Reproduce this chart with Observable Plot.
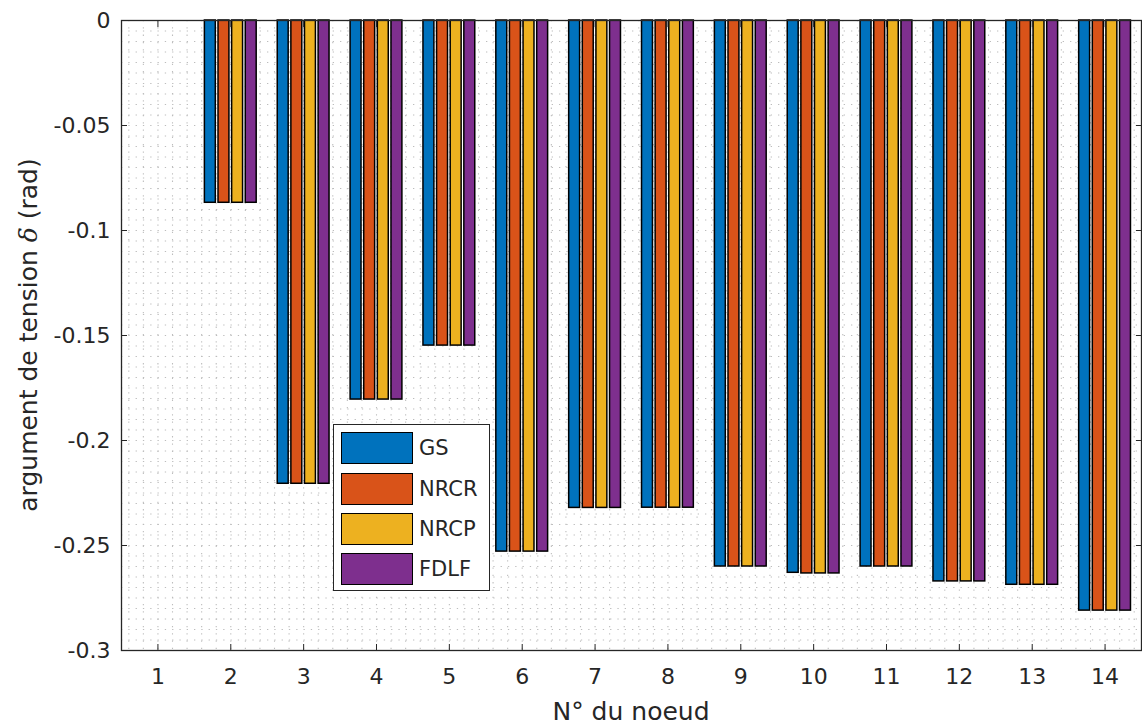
<!DOCTYPE html>
<html>
<head>
<meta charset="utf-8">
<script src="https://cdn.jsdelivr.net/npm/d3@7"></script>
<script src="https://cdn.jsdelivr.net/npm/@observablehq/plot@0.6"></script>
<style>
  body { margin: 0; background: #fff; }
  #wrap { position: relative; width: 1142px; height: 727px; overflow: hidden; font-family: "DejaVu Sans", sans-serif; color: #262626; }
  #ylabel { position: absolute; left: 28px; top: 335px; transform: translate(-50%, -50%) rotate(-90deg); white-space: nowrap; font-size: 25px; }
  #xlabel { position: absolute; left: 631px; top: 711px; transform: translate(-50%, -50%); white-space: nowrap; font-size: 25px; }
  #legend { position: absolute; left: 333px; top: 424px; width: 157px; height: 167px; border: 1.3px solid #262626; background: #fff; box-sizing: border-box; }
  .item { position: absolute; left: 7px; height: 34px; display: flex; align-items: center; }
  .sw { width: 72px; height: 32px; border: 1.3px solid #000; box-sizing: border-box; margin-right: 6px; }
  .lt { font-size: 21px; }
</style>
</head>
<body>
<div id="wrap">
  <div id="chart"></div>
  <div id="ylabel">argument de tension <span style="font-family:'DejaVu Serif';font-style:italic">δ</span> (rad)</div>
  <div id="xlabel">N° du noeud</div>
  <div id="legend"></div>
</div>
<script>
// ---- data ----
const nodes = [1, 2, 3, 4, 5, 6, 7, 8, 9, 10, 11, 12, 13, 14];
const series = ["GS", "NRCR", "NRCP", "FDLF"];
const colors = ["#0072BD", "#D95319", "#EDB120", "#7E2F8E"];
const gs   = [0, -0.0868, -0.2206, -0.1805, -0.1548, -0.2529, -0.2321, -0.2320, -0.2600, -0.2630, -0.2600, -0.2671, -0.2687, -0.2810];
const nrcr = [0, -0.0868, -0.2206, -0.1805, -0.1548, -0.2529, -0.2321, -0.2320, -0.2600, -0.2633, -0.2600, -0.2671, -0.2687, -0.2810];
const nrcp = [0, -0.0868, -0.2206, -0.1805, -0.1548, -0.2529, -0.2321, -0.2320, -0.2600, -0.2633, -0.2600, -0.2671, -0.2687, -0.2810];
const fdlf = [0, -0.0868, -0.2206, -0.1805, -0.1548, -0.2529, -0.2321, -0.2320, -0.2600, -0.2633, -0.2600, -0.2671, -0.2687, -0.2810];
const yTicks = [-0.3, -0.25, -0.2, -0.15, -0.1, -0.05, 0];
const yTickLabels = ["-0.3", "-0.25", "-0.2", "-0.15", "-0.1", "-0.05", "0"];

// ---- build table ----
const values = [gs, nrcr, nrcp, fdlf];
const step = 0.187;
const barW = 0.15;
const bars = [];
series.forEach((s, i) => {
  nodes.forEach((n, j) => {
    const c = n + (i - (series.length - 1) / 2) * step;
    bars.push({node: n, series: s, value: values[i][j], x1: c - barW / 2, x2: c + barW / 2});
  });
});
const gridY = d3.range(0, 61).map(k => -k * 0.005);
const gridX = d3.range(0, 70).map(k => 0.6 + k * 0.2);

const fmt = d => yTickLabels[yTicks.findIndex(t => Math.abs(t - d) < 1e-9)];
const none = () => "";

const chart = Plot.plot({
  width: 1142,
  height: 727,
  marginLeft: 121,
  marginRight: 1,
  marginTop: 20,
  marginBottom: 77,
  x: {domain: [0.5, 14.5], label: null},
  y: {domain: [-0.3, 0], label: null},
  color: {domain: series, range: colors},
  style: {fontFamily: "DejaVu Sans", fontSize: "22px", color: "#262626", background: "white"},
  marks: [
    Plot.ruleY(gridY, {stroke: "#bdbdbd", strokeWidth: 1.1, strokeDasharray: "1.3,6"}),
    Plot.ruleX(gridX, {stroke: "#bdbdbd", strokeWidth: 1.1, strokeDasharray: "1.3,6"}),
    Plot.rect(bars, {x1: "x1", x2: "x2", y1: d => 0, y2: "value", fill: "series", stroke: "#000", strokeWidth: 1.5}),
    Plot.frame({stroke: "#262626", strokeWidth: 1.3}),
    Plot.axisY(yTicks, {anchor: "left", tickSize: 0, tickPadding: 11, tickFormat: fmt, fontSize: 22, label: null}),
    Plot.axisY(yTicks, {anchor: "left", tickSize: -6, tickFormat: none, label: null, stroke: "#262626"}),
    Plot.axisY(yTicks, {anchor: "right", tickSize: -6, tickFormat: none, label: null, stroke: "#262626"}),
    Plot.axisX(nodes, {anchor: "bottom", tickSize: 0, tickPadding: 18, fontSize: 22, label: null}),
    Plot.axisX(nodes, {anchor: "bottom", tickSize: -6, tickFormat: none, label: null, stroke: "#262626"}),
    Plot.axisX(nodes, {anchor: "top", tickSize: -6, tickFormat: none, label: null, stroke: "#262626"})
  ]
});
document.getElementById("chart").appendChild(chart);

// ---- legend ----
const legend = document.getElementById("legend");
const rowTops = [6, 47, 87, 127];
series.forEach((s, i) => {
  const it = document.createElement("div");
  it.className = "item";
  it.style.top = rowTops[i] + "px";
  it.innerHTML = `<div class="sw" style="background:${colors[i]}"></div><span class="lt">${s}</span>`;
  legend.appendChild(it);
});
</script>
</body>
</html>
